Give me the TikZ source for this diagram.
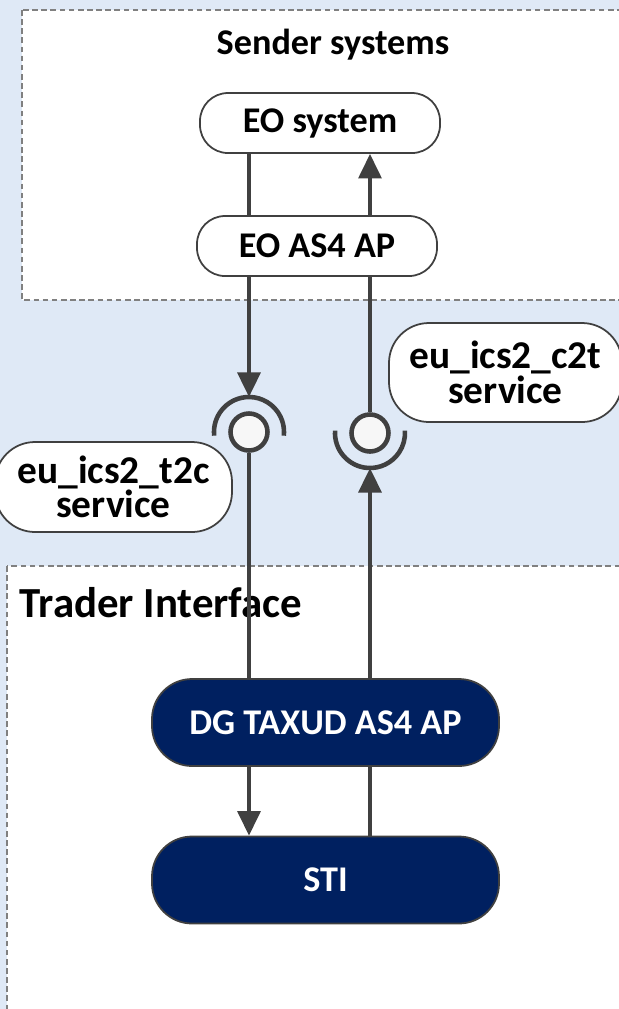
\documentclass[tikz,border=0pt]{standalone}
\usepackage{fontspec}
\setmainfont{Carlito}
\usetikzlibrary{arrows.meta, positioning, calc}
\definecolor{bgblue}{RGB}{223, 233, 246}
\definecolor{taxnavy}{RGB}{0, 32, 96}
\definecolor{linegray}{RGB}{64, 64, 64}
\definecolor{boxgray}{RGB}{128, 128, 128}

\tikzset{
  groupbox/.style={draw=boxgray, fill=white, line width=0.5pt, dash pattern=on 1.6pt off 1pt},
  sysbox/.style={draw=linegray, fill=white, line width=0.5pt, rounded corners=0.28cm, minimum width=2.4cm, minimum height=0.6cm, inner sep=0pt, font=\bfseries\fontsize{10.3}{12}\selectfont},
  navybox/.style={draw=linegray, fill=taxnavy, text=white, line width=0.5pt, rounded corners=0.40cm, minimum width=3.47cm, minimum height=0.87cm, inner sep=0pt, font=\bfseries\fontsize{10.3}{12}\selectfont},
  svcbox/.style={draw=linegray, fill=white, line width=0.5pt, rounded corners=0.40cm, align=center, inner sep=0pt, font=\bfseries\fontsize{11.2}{9.8}\selectfont},
  flow/.style={draw=linegray, line width=1.1pt},
  flowarr/.style={flow, -{Triangle[length=7pt, width=6.5pt]}},
  ball/.style={circle, draw=linegray, line width=1.3pt, fill=gray!6, minimum size=0.37cm, inner sep=0pt},
  socket/.style={draw=linegray, line width=1.3pt}
}

\begin{document}
\begin{tikzpicture}
  \useasboundingbox (0,0) rectangle (6.19,-10.09);
  \fill[bgblue] (0,0) rectangle (6.19,-10.09);

  % Sender side
  \draw[groupbox] (0.22,-0.10) rectangle (6.40,-3.00);
  \node[font=\bfseries\fontsize{10.3}{12}\selectfont] (sendtitle) at (3.33,-0.45) {Sender systems};
  \node[sysbox] (eosys) at (3.20,-1.23) {EO system};
  \node[sysbox] (eoap) at (3.17,-2.46) {EO AS4 AP};

  % Trader side
  \draw[groupbox] (0.07,-5.66) rectangle (6.40,-10.30);
  \node[anchor=west, inner sep=0pt, font=\bfseries\fontsize{12.2}{14}\selectfont] (tradtitle) at (0.19,-6.03) {Trader Interface};
  \node[navybox] (taxap) at (3.255,-7.225) {DG TAXUD AS4 AP};
  \node[navybox] (sti) at (3.255,-8.80) {STI};

  % Service labels
  \node[svcbox, minimum width=2.33cm, minimum height=0.99cm] (c2t) at (5.055,-3.725) {eu\_ics2\_c2t\\service};
  \node[svcbox, minimum width=2.37cm, minimum height=0.90cm] (t2c) at (1.135,-4.87) {eu\_ics2\_t2c\\service};

  % Interfaces
  \coordinate (lx) at (2.49,0);
  \coordinate (rx) at (3.70,0);
  \node[ball] (ballL) at (2.49,-4.32) {};
  \node[ball] (ballR) at (3.70,-4.33) {};
  \draw[socket] (ballL.center) ++(186:0.35) arc[start angle=186, end angle=-6, radius=0.35];
  \draw[socket] (ballR.center) ++(176:0.35) arc[start angle=176, end angle=364, radius=0.35];
  \coordinate (sockL) at ($(ballL.center)+(0,0.35)$);
  \coordinate (sockR) at ($(ballR.center)+(0,-0.35)$);

  % Outgoing flow
  \draw[flow] (eosys.south -| lx) -- (eoap.north -| lx);
  \draw[flowarr] (eoap.south -| lx) -- (sockL);
  \draw[flow] (ballL.south) -- (taxap.north -| ballL);
  \draw[flowarr] (taxap.south -| lx) -- (sti.north -| lx);

  % Incoming flow
  \draw[flow] (sti.north -| rx) -- (taxap.south -| rx);
  \draw[flowarr] (taxap.north -| rx) -- (sockR);
  \draw[flow] (ballR.north) -- (eoap.south -| rx);
  \draw[flowarr] (eoap.north -| rx) -- (eosys.south -| rx);
\end{tikzpicture}
\end{document}
